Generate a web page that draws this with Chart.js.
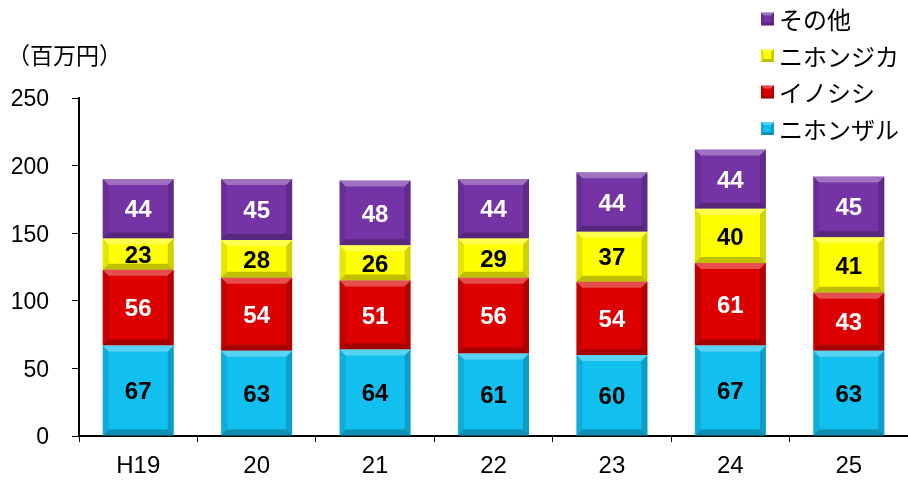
<!DOCTYPE html>
<html lang="ja">
<head>
<meta charset="utf-8">
<script src="https://cdn.jsdelivr.net/npm/chart.js@4/dist/chart.umd.min.js"></script>
<style>
  html, body { margin: 0; padding: 0; background: #fff; }
  #wrap { position: relative; width: 908px; height: 480px; }
</style>
</head>
<body>
<div id="wrap"><canvas id="c"></canvas></div>
<script>
// --- data (百万円) ---
const years = ['H19', '20', '21', '22', '23', '24', '25'];
const saru   = [67, 63, 64, 61, 60, 67, 63];   // ニホンザル
const inoshi = [56, 54, 51, 56, 54, 61, 43];   // イノシシ
const shika  = [23, 28, 26, 29, 37, 40, 41];   // ニホンジカ
const other  = [44, 45, 48, 44, 44, 44, 45];   // その他
const yTicks = [0, 50, 100, 150, 200, 250];
const unitLabel = '（百万円）';

const FONT = '"Liberation Sans", Arial, sans-serif';
const JP = '"Noto Sans CJK JP", sans-serif';

// bevel look of the original bars
function bevel(ctx, left, top, right, bottom, b) {
    const poly = (pts, fill) => {
        ctx.beginPath();
        ctx.moveTo(pts[0][0], pts[0][1]);
        pts.slice(1).forEach(p => ctx.lineTo(p[0], p[1]));
        ctx.closePath();
        ctx.fillStyle = fill;
        ctx.fill();
    };
    b = Math.min(b, (bottom - top) / 2, (right - left) / 2);
    poly([[left, top], [right, top], [right - b, top + b], [left + b, top + b]], 'rgba(255,255,255,0.3)');
    poly([[left, top], [left + b, top + b], [left + b, bottom - b], [left, bottom]], 'rgba(0,0,0,0.10)');
    poly([[right, top], [right - b, top + b], [right - b, bottom - b], [right, bottom]], 'rgba(0,0,0,0.18)');
    poly([[left, bottom], [left + b, bottom - b], [right - b, bottom - b], [right, bottom]], 'rgba(0,0,0,0.25)');
}

const barDecor = {
    id: 'barDecor',
    afterDatasetsDraw(chart) {
        const ctx = chart.ctx;
        ctx.save();
        chart.data.datasets.forEach((ds, i) => {
            const meta = chart.getDatasetMeta(i);
            meta.data.forEach(el => {
                const p = el.getProps(['x', 'y', 'base', 'width'], true);
                const top = Math.min(p.y, p.base), bottom = Math.max(p.y, p.base);
                bevel(ctx, p.x - p.width / 2, top, p.x + p.width / 2, bottom, 6);
            });
        });
        ctx.font = 'bold 24px ' + FONT;
        ctx.textAlign = 'center';
        ctx.textBaseline = 'middle';
        chart.data.datasets.forEach((ds, i) => {
            const meta = chart.getDatasetMeta(i);
            ctx.fillStyle = ds.labelColor;
            meta.data.forEach((el, j) => {
                const p = el.getProps(['x', 'y', 'base'], true);
                ctx.fillText(String(ds.data[j]), p.x, (p.y + p.base) / 2 + 2);
            });
        });
        ctx.restore();
    }
};

// vertical legend at top right + unit label
const sideLegend = {
    id: 'sideLegend',
    afterDraw(chart) {
        const ctx = chart.ctx;
        ctx.save();
        ctx.font = '23px ' + JP;
        ctx.textBaseline = 'middle';
        ctx.textAlign = 'left';
        ctx.fillStyle = '#000';
        ctx.fillText(unitLabel, 7, 55);

        ctx.font = '24px ' + JP;
        const items = chart.data.datasets.slice().reverse();
        items.forEach((ds, k) => {
            const cy = 19 + k * 36.5;
            const x0 = 761, s = 13;
            ctx.fillStyle = ds.backgroundColor;
            ctx.fillRect(x0, cy - s / 2, s, s);
            bevel(ctx, x0, cy - s / 2, x0 + s, cy + s / 2, 3);
            ctx.fillStyle = '#000';
            ctx.fillText(ds.label, 779, cy + 1);
        });
        ctx.restore();
    }
};

new Chart(document.getElementById('c'), {
    type: 'bar',
    data: {
        labels: years,
        datasets: [
            { label: 'ニホンザル', data: saru,   backgroundColor: '#12c0f0', labelColor: '#000' },
            { label: 'イノシシ',   data: inoshi, backgroundColor: '#dc0000', labelColor: '#fff' },
            { label: 'ニホンジカ', data: shika,  backgroundColor: '#ffff00', labelColor: '#000' },
            { label: 'その他',     data: other,  backgroundColor: '#7434a6', labelColor: '#fff' }
        ]
    },
    options: {
        responsive: true,
        maintainAspectRatio: false,
        animation: false,
        datasets: { bar: { barPercentage: 0.6, categoryPercentage: 1.0, borderWidth: 0 } },
        layout: { padding: { top: 98, right: -5, bottom: 0, left: 0 } },
        plugins: { legend: { display: false }, tooltip: { enabled: false } },
        scales: {
            x: {
                stacked: true,
                grid: { drawOnChartArea: false, drawTicks: true, tickLength: 6, color: '#000', lineWidth: 1 },
                border: { display: true, color: '#000', width: 2 },
                ticks: { color: '#000', font: { family: FONT, size: 24 }, padding: 10 },
                afterFit(s) { s.height = 44; }
            },
            y: {
                stacked: true,
                min: 0,
                max: 250,
                afterBuildTicks(s) { s.ticks = yTicks.map(v => ({ value: v })); },
                grid: { drawOnChartArea: false, drawTicks: true, tickLength: 7, color: '#000', lineWidth: 1 },
                border: { display: true, color: '#000', width: 2 },
                ticks: { color: '#000', font: { family: FONT, size: 23 }, padding: 23, labelOffset: 2 },
                afterFit(s) { s.width = 79; }
            }
        }
    },
    plugins: [barDecor, sideLegend]
});
</script>
</body>
</html>
